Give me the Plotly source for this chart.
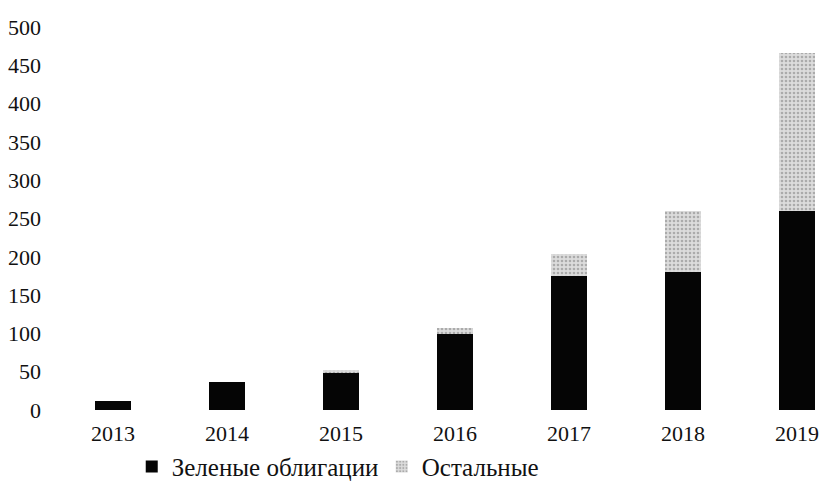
import plotly.graph_objects as go

years = ["2013", "2014", "2015", "2016", "2017", "2018", "2019"]
green = [12, 36, 48, 99, 175, 180, 260]
other = [0, 0, 4, 8, 29, 80, 206]
y_ticks = [0, 50, 100, 150, 200, 250, 300, 350, 400, 450, 500]

font = dict(family="Liberation Serif, Times New Roman, serif", size=22, color="#111")

fig = go.Figure()
fig.add_trace(go.Bar(
    x=years, y=green, name="Зеленые облигации",
    marker=dict(color="#050505", line=dict(width=0)),
    width=0.31,
))
fig.add_trace(go.Bar(
    x=years, y=other, name="Остальные",
    marker=dict(color="#d4d4d4", line=dict(width=0),
                pattern=dict(shape=".", fgcolor="#7a7a7a", bgcolor="#dcdcdc", size=4, solidity=0.35)),
    width=0.31,
))

fig.update_layout(
    barmode="stack",
    width=821, height=490,
    margin=dict(l=56, r=0, t=27, b=80, autoexpand=False),
    paper_bgcolor="white", plot_bgcolor="white",
    font=font,
    showlegend=True,
    legend=dict(orientation="h", x=0.099, y=-0.148, xanchor="left", yanchor="middle",
                font=dict(family="Liberation Serif, Times New Roman, serif", size=25, color="#111"),
                itemwidth=30, entrywidth=205, traceorder="normal"),
    xaxis=dict(type="category", range=[-0.5, 6.21], showgrid=False, showline=False,
               zeroline=False, ticks="", ticklabelstandoff=8, tickfont=font),
    yaxis=dict(range=[0, 500], tickvals=y_ticks, showgrid=False, showline=False,
               zeroline=False, ticks="", ticklabelstandoff=14, tickfont=font),
)

fig.write_html("out.html", config={"displayModeBar": False},
               post_script="document.body.style.margin='0';document.body.style.overflow='hidden';")
